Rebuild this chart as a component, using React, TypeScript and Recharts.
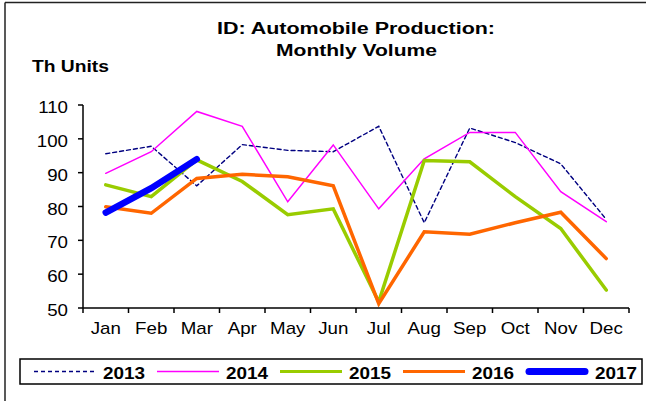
import React from 'react';
import { ComposedChart, Line, XAxis, YAxis } from 'recharts';

const months = ['Jan', 'Feb', 'Mar', 'Apr', 'May', 'Jun', 'Jul', 'Aug', 'Sep', 'Oct', 'Nov', 'Dec'];
const v2013 = [95.6, 97.8, 86.1, 98.3, 96.6, 96.2, 103.7, 75.2, 103.2, 98.9, 92.6, 76.2];
const v2014 = [89.8, 96.2, 108.1, 103.7, 81.4, 98.2, 79.3, 94.1, 101.9, 101.9, 84.4, 75.5];
const v2015 = [86.4, 82.9, 93.8, 87.4, 77.6, 79.3, 51.8, 93.6, 93.2, 82.9, 73.5, 55.3];
const v2016 = [79.9, 78.0, 88.3, 89.5, 88.8, 86.1, 51.3, 72.5, 71.8, 75.2, 78.3, 64.6];
const v2017 = [78.2, 85.4, 94.0];
const yTicks = [50, 60, 70, 80, 90, 100, 110];

const data = months.map((month, i) => ({
  month,
  y2013: v2013[i],
  y2014: v2014[i],
  y2015: v2015[i],
  y2016: v2016[i],
  y2017: v2017[i] ?? null,
}));

const series = [
  { key: 'y2013', name: '2013', color: '#000080', width: 1.4, legendWidth: 1.4, dash: '4 3' },
  { key: 'y2014', name: '2014', color: '#FF00FF', width: 1.5, legendWidth: 1.5 },
  { key: 'y2015', name: '2015', color: '#99CC00', width: 3.5, legendWidth: 3 },
  { key: 'y2016', name: '2016', color: '#FF6600', width: 3.5, legendWidth: 3 },
  { key: 'y2017', name: '2017', color: '#0000FF', width: 6.5, legendWidth: 7 },
];

const FONT = '"Liberation Sans", Arial, sans-serif';
const PLOT_W = 546;
const band = PLOT_W / months.length;

function MonthTick({ x, y, payload, index }: any) {
  return (
    <g>
      {index === 0 && (
        <line x1={x - band / 2} x2={x - band / 2} y1={y} y2={y + 5} stroke="#000" strokeWidth={1.5} />
      )}
      <line x1={x + band / 2} x2={x + band / 2} y1={y} y2={y + 5} stroke="#000" strokeWidth={1.5} />
      <text
        transform={`translate(${x},${y + 26}) scale(1.17,1)`}
        textAnchor="middle"
        fontSize={16}
        fontFamily={FONT}
        fill="#000"
      >
        {payload.value}
      </text>
    </g>
  );
}

function ValueTick({ x, y, payload }: any) {
  return (
    <text
      transform={`translate(${x},${y + 8}) scale(1.17,1)`}
      textAnchor="end"
      fontSize={16}
      fontFamily={FONT}
      fill="#000"
    >
      {payload.value}
    </text>
  );
}

export default function App() {
  return (
    <div style={{ position: 'absolute', left: 0, top: 0, width: 646, height: 401, background: '#fff' }}>
      <ComposedChart
        width={646}
        height={401}
        data={data}
        margin={{ top: 105, right: 17, bottom: 63, left: 23 }}
      >
        <XAxis
          dataKey="month"
          scale="band"
          tick={<MonthTick />}
          tickLine={false}
          tickSize={0}
          tickMargin={0}
          height={30}
          interval={0}
          axisLine={{ stroke: '#000', strokeWidth: 1.5 }}
        />
        <YAxis
          domain={[50, 110]}
          ticks={yTicks}
          width={60}
          tickSize={5}
          tickMargin={10}
          tick={<ValueTick />}
          tickLine={{ stroke: '#000', strokeWidth: 1.5 }}
          axisLine={{ stroke: '#000', strokeWidth: 1.5 }}
        />
        {series.map((s) => (
          <Line
            key={s.key}
            type="linear"
            dataKey={s.key}
            name={s.name}
            stroke={s.color}
            strokeWidth={s.width}
            strokeDasharray={s.dash}
            strokeLinecap="round"
            dot={false}
            activeDot={false}
            isAnimationActive={false}
          />
        ))}
      </ComposedChart>

      <svg
        width={646}
        height={401}
        style={{ position: 'absolute', left: 0, top: 0, pointerEvents: 'none' }}
        fontFamily={FONT}
      >
        {/* frame */}
        <line x1={5} x2={646} y1={2.5} y2={2.5} stroke="#222" strokeWidth={1.5} />
        <line x1={5} x2={5} y1={2.5} y2={401} stroke="#222" strokeWidth={1.5} />

        <text x={356} y={34} textAnchor="middle" fontSize={16} fontWeight="bold" textLength={278} lengthAdjust="spacingAndGlyphs">
          ID: Automobile Production:
        </text>
        <text x={356.5} y={56} textAnchor="middle" fontSize={16} fontWeight="bold" textLength={161} lengthAdjust="spacingAndGlyphs">
          Monthly Volume
        </text>
        <text x={32} y={72} fontSize={16} fontWeight="bold" textLength={77} lengthAdjust="spacingAndGlyphs">
          Th Units
        </text>

        {/* legend */}
        <rect x={20} y={359} width={622} height={25} fill="#fff" stroke="#000" strokeWidth={1.5} />
        {series.map((s, i) => {
          const x0 = 34 + i * 123;
          const round = s.legendWidth > 5;
          return (
            <g key={s.key}>
              <line
                x1={x0 + (round ? 3 : 0)}
                x2={x0 + 62 - (round ? 3 : 0)}
                y1={371.5}
                y2={371.5}
                stroke={s.color}
                strokeWidth={s.legendWidth}
                strokeDasharray={s.dash}
                strokeLinecap={round ? 'round' : 'butt'}
              />
              <text
                transform={`translate(${x0 + 69},${378.5}) scale(1.18,1)`}
                fontSize={16}
                fontWeight="bold"
                fill="#000"
              >
                {s.name}
              </text>
            </g>
          );
        })}
      </svg>
    </div>
  );
}
